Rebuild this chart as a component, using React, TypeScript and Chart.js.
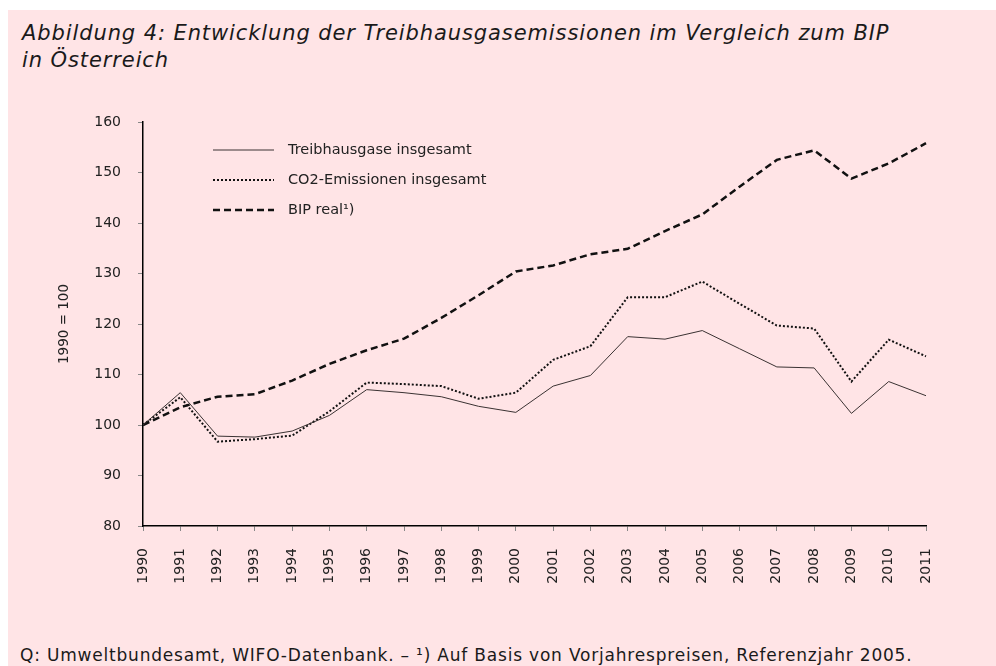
import React, { useEffect, useRef } from "react";
import { Chart, registerables } from "chart.js";

Chart.register(...registerables);

const years = ["1990","1991","1992","1993","1994","1995","1996","1997","1998","1999","2000","2001","2002","2003","2004","2005","2006","2007","2008","2009","2010","2011"];
const treibhausgase = [100, 106.4, 97.8, 97.6, 98.8, 101.9, 107.0, 106.4, 105.6, 103.7, 102.5, 107.7, 109.8, 117.5, 117.0, 118.7, 115.1, 111.5, 111.3, 102.3, 108.6, 105.8];
const co2 = [100, 105.5, 96.7, 97.2, 97.9, 102.7, 108.4, 108.1, 107.7, 105.2, 106.4, 112.9, 115.6, 125.3, 125.3, 128.4, 124.0, 119.7, 119.1, 108.6, 116.9, 113.6];
const bip = [100, 103.5, 105.6, 106.1, 108.8, 112.1, 114.8, 117.1, 121.2, 125.7, 130.4, 131.6, 133.8, 134.9, 138.4, 141.7, 147.2, 152.5, 154.4, 148.8, 151.8, 155.8];
const seriesLabels = ["Treibhausgase insgesamt", "CO2-Emissionen insgesamt", "BIP real¹)"];
const yTicks = [80, 90, 100, 110, 120, 130, 140, 150, 160];

const FONT = "'DejaVu Sans', sans-serif";

const legendPlugin = {
  id: "innerLegend",
  afterDatasetsDraw(chart: any) {
    const ctx = chart.ctx;
    const area = chart.chartArea;
    ctx.save();
    chart.data.datasets.forEach((ds: any, i: number) => {
      const y = area.top + 28 + i * 30;
      ctx.beginPath();
      ctx.strokeStyle = ds.borderColor;
      ctx.lineWidth = ds.borderWidth;
      ctx.setLineDash(ds.borderDash || []);
      ctx.moveTo(area.left + 70, y);
      ctx.lineTo(area.left + 131, y);
      ctx.stroke();
      ctx.setLineDash([]);
      ctx.fillStyle = "#222";
      ctx.font = "14.5px " + FONT;
      ctx.textBaseline = "middle";
      ctx.textAlign = "left";
      ctx.fillText(ds.label, area.left + 145, y);
    });
    ctx.restore();
  },
};

function LineChart() {
  const ref = useRef<HTMLCanvasElement | null>(null);
  useEffect(() => {
    if (!ref.current) return;
    const chart = new Chart(ref.current, {
      type: "line",
      data: {
        labels: years,
        datasets: [
          { label: seriesLabels[0], data: treibhausgase, borderColor: "#3a3232", borderWidth: 1, pointRadius: 0, tension: 0, fill: false },
          { label: seriesLabels[1], data: co2, borderColor: "#111", borderWidth: 2, borderDash: [2, 2], pointRadius: 0, tension: 0, fill: false },
          { label: seriesLabels[2], data: bip, borderColor: "#111", borderWidth: 2.5, borderDash: [7, 4], pointRadius: 0, tension: 0, fill: false },
        ],
      },
      options: {
        animation: false,
        responsive: false,
        maintainAspectRatio: false,
        layout: { padding: { left: 0, top: 22, right: 62, bottom: 0 } },
        plugins: { legend: { display: false }, tooltip: { enabled: false } },
        scales: {
          x: {
            type: "category",
            offset: false,
            border: { display: true, color: "#000", width: 1.5 },
            grid: { display: true, drawOnChartArea: false, drawTicks: true, tickLength: 5, tickColor: "#888" },
            ticks: { autoSkip: false, maxRotation: 90, minRotation: 90, padding: 17, color: "#222", font: { family: FONT, size: 14 } },
            afterFit: (s: any) => { s.height = 74; s.paddingLeft = 0; s.paddingRight = 0; },
          },
          y: {
            min: 80,
            max: 160,
            afterBuildTicks: (s: any) => { s.ticks = yTicks.map((v) => ({ value: v })); },
            border: { display: true, color: "#000", width: 1.5 },
            grid: { display: true, drawOnChartArea: false, drawTicks: true, tickLength: 5, tickColor: "#888" },
            ticks: { padding: 17, color: "#222", font: { family: FONT, size: 14 } },
            title: { display: true, text: "1990 = 100", color: "#222", font: { family: FONT, size: 13.5 }, padding: { top: 48, bottom: 0 } },
            afterFit: (s: any) => { s.width = 135; s.paddingTop = 0; s.paddingBottom = 0; },
          },
        },
      },
      plugins: [legendPlugin],
    });
    return () => chart.destroy();
  }, []);
  return <canvas ref={ref} width={980} height={500} style={{ display: "block", width: 980, height: 500 }} />;
}

export default function App() {
  return (
    <div style={{ position: "absolute", left: 8, top: 10, width: 988, height: 656, background: "#FFE4E6", overflow: "hidden", fontFamily: FONT }}>
      <div style={{ position: "absolute", left: 14, top: 10, fontStyle: "italic", fontSize: 21, letterSpacing: "0.9px", lineHeight: "27px", color: "#1a1a1a", whiteSpace: "nowrap" }}>
        Abbildung 4: Entwicklung der Treibhausgasemissionen im Vergleich zum BIP
        <br />
        in Österreich
      </div>
      <div style={{ position: "absolute", left: 0, top: 90 }}>
        <LineChart />
      </div>
      <div style={{ position: "absolute", left: 12, top: 635, fontSize: 17, letterSpacing: "0.8px", lineHeight: "20px", color: "#1a1a1a", whiteSpace: "nowrap" }}>
        Q: Umweltbundesamt, WIFO-Datenbank. – ¹) Auf Basis von Vorjahrespreisen, Referenzjahr 2005.
      </div>
    </div>
  );
}
